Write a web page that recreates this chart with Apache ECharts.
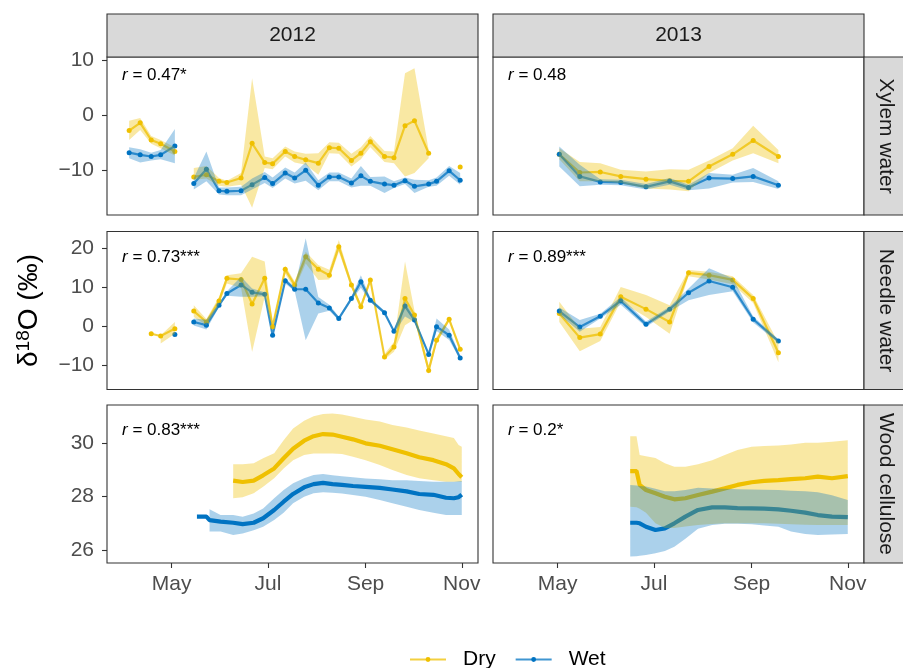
<!DOCTYPE html>
<html>
<head>
<meta charset="utf-8">
<script src="https://cdn.jsdelivr.net/npm/echarts@6/dist/echarts.min.js"></script>
<style>
  html, body { margin: 0; padding: 0; background: #fff; }
  #chart { width: 903px; height: 668px; }
</style>
</head>
<body>
<div id="chart"></div>
<script>
// ---------------- data ----------------
const xTickDays = ['05-01', '07-01', '09-01', '11-01'];
const xTickLabels = ['May', 'Jul', 'Sep', 'Nov'];
const years = [2012, 2013];
const rowNames = ['Xylem water', 'Needle water', 'Wood cellulose'];
const yTicks = [[-10, 0, 10], [-10, 0, 10, 20], [26, 28, 30]];
const rLabels = [['0.47*', '0.48'], ['0.73***', '0.89***'], ['0.83***', '0.2*']];

// water sampling dates
const waterDates2012 = ['04-04','04-11','04-18','04-24','05-03','05-09','05-15','05-23','05-31','06-05','06-14','06-21','06-29','07-04','07-12','07-18','07-25','08-02','08-09','08-15','08-23','08-29','09-04','09-13','09-19','09-26','10-02','10-11','10-16','10-24','10-31'];
const waterDates2013 = ['05-02','05-15','05-28','06-10','06-26','07-11','07-23','08-05','08-20','09-02','09-18'];

// xylem water 2012
const xylemDry2012   = [-2.8,-1.4,-4.5,-5.2,-6.6,null,-11.2,-10.8,-12.0,-12.2,-11.4,-5.1,-8.6,-8.8,-6.6,-7.5,-8.1,-8.7,-5.9,-6.0,-8.2,-6.9,-4.8,-7.5,-7.7,-1.9,-1.0,-6.9,null,null,-9.4];
const xylemDryLo2012 = [-4.5,-2.7,-5.2,-6.0,-7.3,null,-11.7,-11.5,-12.8,-13.0,-12.6,-16.8,-9.6,-9.8,-7.5,-8.6,-9.0,-10.8,-6.9,-7.0,-9.3,-8.0,-5.8,-8.5,-8.7,-11.1,-10.5,-7.8,null,null,null];
const xylemDryHi2012 = [-1.0,-0.5,-3.8,-4.5,-5.8,null,-9.6,-9.2,-11.4,-11.9,-10.5,6.7,-7.5,-7.8,-5.7,-6.6,-7.0,-6.9,-4.9,-5.0,-7.0,-5.8,-3.8,-6.5,-6.6,7.6,8.5,-6.3,null,null,null];
const xylemWet2012   = [-6.8,-7.2,-7.5,-7.2,-5.6,null,-12.4,-9.8,-13.7,-13.8,-13.7,-12.6,-11.3,-12.4,-10.5,-11.4,-10.0,-12.7,-11.2,-11.2,-12.3,-11.0,-12.0,-12.5,-12.7,-11.9,-12.9,-12.5,-12.0,-10.1,-11.8];
const xylemWetLo2012 = [-7.8,-8.6,-8.2,-8.0,-8.7,null,-13.5,-12.0,-14.4,-14.5,-14.5,-13.5,-12.3,-13.2,-11.5,-12.4,-11.9,-13.6,-12.0,-12.0,-13.1,-12.8,-12.8,-14.1,-13.2,-12.5,-14.1,-13.0,-12.8,-11.0,-12.6];
const xylemWetHi2012 = [-5.8,-6.2,-6.8,-6.3,-2.5,null,-11.4,-6.6,-13.1,-13.1,-13.0,-11.5,-10.3,-11.3,-9.5,-10.4,-8.6,-11.8,-10.4,-10.4,-11.5,-9.2,-11.2,-11.1,-12.0,-11.3,-11.7,-11.8,-11.3,-9.2,-10.5];

// needle water 2012
const needleDry2012   = [null,null,-1.9,-2.5,-0.6,null,3.9,1.1,6.5,12.3,12.0,5.7,12.3,-0.1,14.6,10.6,17.8,14.6,13.1,20.4,10.6,5.0,11.9,-7.9,-5.3,7.1,2.9,-11.3,-3.6,1.8,-5.9];
const needleDryLo2012 = [null,null,null,-4.4,-1.9,null,2.4,0.3,5.5,11.0,9.9,-6.6,7.6,-0.8,13.5,9.5,16.1,11.9,12.0,19.1,9.8,4.2,11.2,-8.5,-6.5,0.3,1.8,-12.2,-4.5,1.2,-6.5];
const needleDryHi2012 = [null,null,null,-2.3,1.1,null,5.4,1.9,7.5,13.1,13.6,17.8,16.6,0.6,15.5,11.5,19.1,15.7,14.5,22.1,11.4,5.8,12.6,-7.1,-4.0,16.6,4.0,-10.2,-2.8,2.4,-5.3];
const needleWet2012   = [null,null,null,null,-2.1,null,1.1,0.3,5.4,8.4,10.6,8.7,8.2,-2.3,11.7,9.5,9.5,6.0,4.7,2.0,7.1,11.4,6.7,3.5,-1.3,5.2,1.6,-7.2,-0.1,-2.3,-8.1];
const needleWetLo2012 = [null,null,null,null,null,null,0.2,-0.8,4.9,7.8,7.6,7.6,7.7,-2.8,11.0,9.0,-3.6,3.3,4.0,1.5,6.6,9.9,6.2,3.0,-1.8,2.5,1.1,-7.7,-1.2,-3.5,-8.6];
const needleWetHi2012 = [null,null,null,null,null,null,2.0,1.7,5.9,9.0,12.7,9.7,8.7,-1.8,12.4,10.0,22.6,7.5,5.5,2.5,7.6,13.1,7.2,4.0,-0.8,6.5,2.1,-6.7,2.0,-0.8,-7.6];

// xylem water 2013
const xylemDry2013   = [-7.1,-10.4,-10.3,-11.1,-11.6,-11.9,-12.0,-9.3,-7.1,-4.6,-7.5];
const xylemDryLo2013 = [-8.0,-12.0,-12.0,-12.3,-13.3,-13.5,-13.8,-10.5,-8.2,-6.9,-8.7];
const xylemDryHi2013 = [-6.0,-8.5,-8.7,-9.9,-10.2,-9.8,-9.9,-8.2,-6.0,-1.9,-6.3];
const xylemWet2013   = [-7.1,-11.1,-12.1,-12.2,-13.0,-12.0,-13.1,-11.4,-11.5,-11.1,-12.7];
const xylemWetLo2013 = [-9.3,-12.9,-12.6,-12.7,-13.5,-12.6,-13.6,-13.3,-12.2,-12.1,-13.4];
const xylemWetHi2013 = [-5.7,-9.0,-11.6,-11.7,-12.5,-11.4,-12.6,-10.5,-10.8,-9.6,-12.0];

// needle water 2013
const needleDry2013   = [3.3,-2.9,-2.0,7.6,4.4,1.1,13.7,13.1,11.9,7.1,-6.8];
const needleDryLo2013 = [1.1,-6.4,-3.8,6.3,2.4,-1.9,12.8,12.0,10.8,6.0,-9.2];
const needleDryHi2013 = [6.3,-0.6,-0.2,10.1,8.0,5.4,14.4,14.0,12.8,8.0,-4.3];
const needleWet2013   = [3.9,-0.2,2.6,6.5,0.5,4.4,8.6,11.6,10.0,1.8,-3.8];
const needleWetLo2013 = [3.0,-1.4,2.0,5.5,-0.2,3.8,6.7,8.0,9.0,1.0,-4.3];
const needleWetHi2013 = [4.8,1.6,3.2,7.5,1.2,5.0,9.7,14.9,12.3,2.5,-3.3];

// wood cellulose 2012
const cellDates2012 = ['05-17','05-23','05-25','06-01','06-09','06-15','06-22','06-28','07-05','07-11','07-17','07-24','07-30','08-05','08-11','08-17','08-24','09-01','09-10','09-18','09-27','10-05','10-14','10-22','10-27','10-30','11-01'];
const cellDry2012   = [null,null,null,null,28.6,28.55,28.6,28.8,29.06,29.44,29.8,30.1,30.27,30.35,30.33,30.25,30.15,30.0,29.91,29.78,29.63,29.48,29.37,29.22,29.06,28.85,28.73];
const cellDryLo2012 = [null,null,null,null,27.94,27.98,28.13,28.37,28.69,29.06,29.37,29.56,29.62,29.62,29.62,29.6,29.5,29.37,29.19,29.0,28.81,28.69,28.62,28.56,28.56,28.56,28.56];
const cellDryHi2012 = [null,null,null,null,29.22,29.22,29.25,29.44,29.63,30.12,30.56,30.85,31.02,31.1,31.12,31.08,31.0,30.9,30.82,30.69,30.6,30.48,30.37,30.27,30.2,29.94,29.87];
const cellWet2012   = [27.25,27.25,27.12,27.06,27.02,26.97,27.02,27.19,27.5,27.81,28.1,28.35,28.47,28.52,28.47,28.44,28.4,28.37,28.33,28.27,28.2,28.1,28.07,27.96,27.94,27.98,28.08];
const cellWetLo2012 = [null,null,26.69,26.69,26.56,26.62,26.74,26.87,27.12,27.4,27.75,28.0,28.13,28.17,28.15,28.12,28.06,28.0,27.87,27.75,27.62,27.5,27.4,27.31,27.31,27.31,27.31];
const cellWetHi2012 = [null,null,27.53,27.31,27.31,27.25,27.37,27.56,27.94,28.25,28.5,28.69,28.81,28.85,28.8,28.77,28.73,28.68,28.65,28.62,28.62,28.59,28.56,28.56,28.56,28.58,28.59];

// wood cellulose 2013
const cellDates2013 = ['06-16','06-20','06-22','06-26','07-02','07-08','07-14','07-21','07-29','08-07','08-15','08-23','09-01','09-09','09-18','09-26','10-05','10-13','10-22','11-01'];
const cellDry2013   = [28.96,28.96,28.44,28.25,28.13,28.0,27.9,27.94,28.06,28.19,28.31,28.44,28.54,28.59,28.62,28.66,28.69,28.75,28.69,28.77];
const cellDryLo2013 = [27.62,27.6,27.55,27.4,27.0,26.82,26.82,26.88,26.94,26.97,27.0,27.0,27.0,27.0,26.98,26.96,26.95,26.94,26.94,26.94];
const cellDryHi2013 = [30.27,30.27,29.56,29.52,29.45,29.25,29.12,29.12,29.22,29.37,29.56,29.75,29.87,29.9,29.92,29.96,30.02,30.02,30.06,30.12];
const cellWet2013   = [27.02,27.02,27.0,26.87,26.75,26.81,27.0,27.25,27.5,27.6,27.6,27.57,27.56,27.55,27.52,27.47,27.4,27.31,27.25,27.23];
const cellWetLo2013 = [25.75,25.76,25.78,25.81,25.88,25.96,26.12,26.42,26.8,26.94,26.98,26.98,26.96,26.92,26.87,26.69,26.6,26.56,26.58,26.6];
const cellWetHi2013 = [28.44,28.42,28.4,28.38,28.3,28.2,28.2,28.25,28.33,28.31,28.3,28.28,28.27,28.26,28.25,28.22,28.2,28.17,28.05,27.87];

// ---------------- layout & style ----------------
const FONT = '"Liberation Sans", Arial, Helvetica, sans-serif';
const COLOR = { Dry: '#EFC000', Wet: '#0073C2' };
const FILL = { Dry: 'rgba(239,192,0,0.36)', Wet: 'rgba(0,115,194,0.33)' };
const COL_LEFT = [107, 493];
const PANEL_W = 371;
const ROW_TOP = [57, 231.5, 405];
const PANEL_H = 158;
const Y_MIN = [-18.1, -16.2, 25.51];
const Y_MAX = [10.54, 24.3, 31.44];
const X_PAD_BEFORE = 41.05;   // days before 1 May shown on the axis
const X_PAD_AFTER = 194.3;    // days after 1 May shown on the axis
const DAY = 86400000;

// dates are placed on a plain numeric axis as millisecond timestamps
function ts(year, md) {
  const [m, d] = md.split('-').map(Number);
  return Date.UTC(year, m - 1, d);
}

const panels = [
  { row: 0, col: 0, year: 2012, dates: waterDates2012, dry: xylemDry2012, dryLo: xylemDryLo2012, dryHi: xylemDryHi2012, wet: xylemWet2012, wetLo: xylemWetLo2012, wetHi: xylemWetHi2012, dense: false },
  { row: 0, col: 1, year: 2013, dates: waterDates2013, dry: xylemDry2013, dryLo: xylemDryLo2013, dryHi: xylemDryHi2013, wet: xylemWet2013, wetLo: xylemWetLo2013, wetHi: xylemWetHi2013, dense: false },
  { row: 1, col: 0, year: 2012, dates: waterDates2012, dry: needleDry2012, dryLo: needleDryLo2012, dryHi: needleDryHi2012, wet: needleWet2012, wetLo: needleWetLo2012, wetHi: needleWetHi2012, dense: false },
  { row: 1, col: 1, year: 2013, dates: waterDates2013, dry: needleDry2013, dryLo: needleDryLo2013, dryHi: needleDryHi2013, wet: needleWet2013, wetLo: needleWetLo2013, wetHi: needleWetHi2013, dense: false },
  { row: 2, col: 0, year: 2012, dates: cellDates2012, dry: cellDry2012, dryLo: cellDryLo2012, dryHi: cellDryHi2012, wet: cellWet2012, wetLo: cellWetLo2012, wetHi: cellWetHi2012, dense: true },
  { row: 2, col: 1, year: 2013, dates: cellDates2013, dry: cellDry2013, dryLo: cellDryLo2013, dryHi: cellDryHi2013, wet: cellWet2013, wetLo: cellWetLo2013, wetHi: cellWetHi2013, dense: true }
];

const grids = [], xAxes = [], yAxes = [], lineSeries = [], bandSeries = [], graphics = [];
const minusSign = v => String(v).replace('-', '\u2212');

// ribbon drawn as one polygon per unbroken run of [date, low, high] rows
function ribbonSeries(idx, rows, fill) {
  const ok = k => k >= 0 && k < rows.length && rows[k][1] != null && rows[k][2] != null;
  return {
    type: 'custom', xAxisIndex: idx, yAxisIndex: idx, z: 3, silent: true,
    data: rows.map(r => [r[0], r[1] == null ? '-' : r[1], r[2] == null ? '-' : r[2]]),
    encode: { x: 0, y: [1, 2] },
    renderItem(params, api) {
      const k = params.dataIndex;
      if (!ok(k) || ok(k - 1) || !ok(k + 1)) return null;
      let e = k;
      while (ok(e + 1)) e++;
      const upper = [], lower = [];
      for (let j = k; j <= e; j++) {
        upper.push(api.coord([rows[j][0], rows[j][2]]));
        lower.push(api.coord([rows[j][0], rows[j][1]]));
      }
      return { type: 'polygon', shape: { points: upper.concat(lower.reverse()) },
        style: { fill, stroke: null } };
    }
  };
}

panels.forEach((p, i) => {
  const left = COL_LEFT[p.col], top = ROW_TOP[p.row];
  const bottomRow = p.row === 2, firstCol = p.col === 0;
  const may1 = ts(p.year, '05-01');

  grids.push({ left, top, width: PANEL_W, height: PANEL_H, show: true,
    backgroundColor: '#fff', borderColor: '#333', borderWidth: 1.1, containLabel: false });

  const xTicks = xTickDays.map(d => ts(p.year, d));
  xAxes.push({
    type: 'value', gridIndex: i,
    min: may1 - X_PAD_BEFORE * DAY, max: may1 + X_PAD_AFTER * DAY,
    axisLine: { show: false }, splitLine: { show: false },
    axisTick: { show: bottomRow, customValues: xTicks, length: 5, lineStyle: { color: '#333', width: 1.1 } },
    axisLabel: { show: bottomRow, customValues: xTicks, margin: 11, fontSize: 21, color: '#4D4D4D', fontFamily: FONT,
      formatter: v => { const k = xTicks.indexOf(v); return k >= 0 ? xTickLabels[k] : ''; } }
  });

  const y = {
    type: 'value', gridIndex: i, min: Y_MIN[p.row], max: Y_MAX[p.row],
    axisLine: { show: false }, splitLine: { show: false },
    axisTick: { show: firstCol, customValues: yTicks[p.row], length: 5, lineStyle: { color: '#333', width: 1.1 } },
    axisLabel: { show: firstCol, customValues: yTicks[p.row], margin: 13, fontSize: 21, color: '#4D4D4D', fontFamily: FONT,
      formatter: minusSign }
  };
  if (p.row === 1 && firstCol) {
    y.name = '{b|\u03B4}{s|18}{b|O (\u2030)}';
    y.nameLocation = 'middle';
    y.nameRotate = 90;
    y.nameGap = 63;
    y.nameTextStyle = { fontFamily: FONT, color: '#000',
      rich: { b: { fontSize: 28, fontFamily: FONT, color: '#000' },
              s: { fontSize: 19, fontFamily: FONT, color: '#000', verticalAlign: 'top', padding: [0, 0, 11, 0] } } };
  }
  yAxes.push(y);

  // lines and points
  ['Dry', 'Wet'].forEach(g => {
    const vals = g === 'Dry' ? p.dry : p.wet;
    lineSeries.push({
      type: 'line', name: g, xAxisIndex: i, yAxisIndex: i, z: 2,
      data: p.dates.map((d, k) => [ts(p.year, d), vals[k] == null ? '-' : vals[k]]),
      connectNulls: false, showAllSymbol: true, silent: true,
      symbol: p.dense ? 'none' : 'circle', symbolSize: 5,
      itemStyle: { color: COLOR[g] },
      lineStyle: { color: COLOR[g], width: p.dense ? 4.2 : 2.2, opacity: p.dense ? 1 : 0.75 }
    });
  });

  // uncertainty ribbons, drawn over the lines
  ['Dry', 'Wet'].forEach(g => {
    const lo = g === 'Dry' ? p.dryLo : p.wetLo;
    const hi = g === 'Dry' ? p.dryHi : p.wetHi;
    const rows = p.dates.map((d, k) => [ts(p.year, d), lo[k], hi[k]]);
    bandSeries.push(ribbonSeries(i, rows, FILL[g]));
  });

  // correlation annotation
  graphics.push({
    type: 'text', left: left + 15, top: top + (p.row === 0 ? 10 : 17), z: 10, silent: true,
    style: { text: '{i|r}{t| = ' + rLabels[p.row][p.col] + '}',
      rich: { i: { fontSize: 17, fontStyle: 'italic', fontFamily: FONT, fill: '#000' },
              t: { fontSize: 17, fontFamily: FONT, fill: '#000' } } }
  });
});

// facet strips: years along the top, sample types on the right
years.forEach((yr, c) => {
  graphics.push({ type: 'rect', shape: { x: COL_LEFT[c], y: 14, width: PANEL_W, height: ROW_TOP[0] - 14 },
    style: { fill: '#D9D9D9', stroke: '#333', lineWidth: 1.1 }, z: 5, silent: true });
  graphics.push({ type: 'text', x: COL_LEFT[c] + PANEL_W / 2, y: (14 + ROW_TOP[0]) / 2, z: 6, silent: true,
    style: { text: String(yr), fontSize: 21, fontFamily: FONT, fill: '#1A1A1A', align: 'center', verticalAlign: 'middle' } });
});
rowNames.forEach((nm, r) => {
  const x0 = COL_LEFT[1] + PANEL_W;
  graphics.push({ type: 'rect', shape: { x: x0, y: ROW_TOP[r], width: 45, height: PANEL_H },
    style: { fill: '#D9D9D9', stroke: '#333', lineWidth: 1.1 }, z: 5, silent: true });
  graphics.push({ type: 'text', x: x0 + 21.5, y: ROW_TOP[r] + PANEL_H / 2, rotation: -Math.PI / 2, z: 6, silent: true,
    style: { text: nm, fontSize: 21, fontFamily: FONT, fill: '#1A1A1A', align: 'center', verticalAlign: 'middle' } });
});

const chart = echarts.init(document.getElementById('chart'), null, { renderer: 'canvas' });
chart.setOption({
  animation: false,
  backgroundColor: '#fff',
  textStyle: { fontFamily: FONT },
  grid: grids,
  xAxis: xAxes,
  yAxis: yAxes,
  legend: {
    data: ['Dry', 'Wet'], left: 404, top: 644, orient: 'horizontal',
    itemWidth: 36, itemHeight: 6, itemGap: 19,
    textStyle: { fontSize: 21, color: '#000', fontFamily: FONT, padding: [0, 0, 0, 12] }
  },
  series: lineSeries.concat(bandSeries),
  graphic: { elements: graphics }
});
</script>
</body>
</html>
